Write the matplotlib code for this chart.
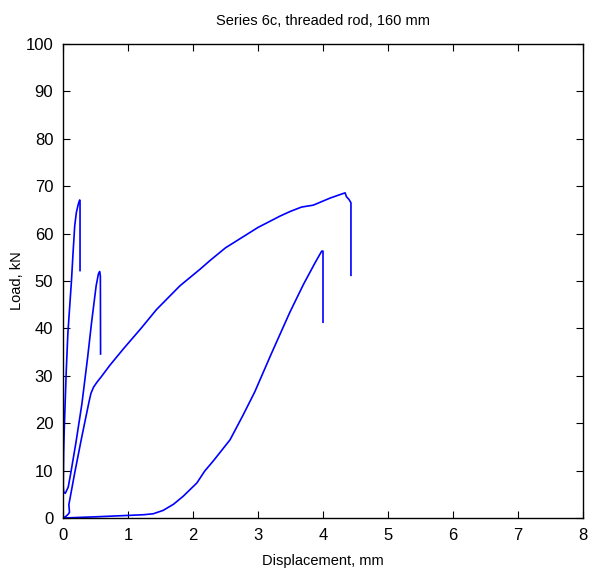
import matplotlib
matplotlib.use("Agg")
import matplotlib.pyplot as plt

plt.rcParams['font.family'] = ['Liberation Sans', 'DejaVu Sans']

# Test 1 (steep, peak ~67 kN)
x1 = [0.0, 0.003, 0.01, 0.02, 0.03, 0.05, 0.075, 0.10, 0.13, 0.155, 0.18, 0.205, 0.235, 0.257, 0.262, 0.262]
y1 = [0.0, 6.0, 14.0, 19.0, 23.0, 31.0, 39.0, 44.0, 50.0, 56.0, 61.6, 64.4, 66.2, 67.1, 66.5, 52.2]

# Test 2 (peak ~52 kN)
x2 = [0.0, 0.002, 0.01, 0.035, 0.08, 0.12, 0.20, 0.29, 0.38, 0.44, 0.51, 0.545, 0.564, 0.575, 0.578]
y2 = [12.0, 7.0, 5.5, 5.2, 6.5, 9.5, 16.0, 24.0, 34.0, 41.3, 49.0, 51.5, 52.0, 51.0, 34.6]

# Test 3 (long curve, peak ~68.5 kN)
x3 = [0.0, 0.05, 0.08, 0.10, 0.09, 0.18, 0.28, 0.40, 0.43, 0.47, 0.52, 0.60, 0.72, 0.93, 1.20,
      1.44, 1.80, 2.11, 2.26, 2.50, 3.00, 3.34, 3.50, 3.67, 3.85, 4.11, 4.34, 4.36, 4.40, 4.43, 4.43]
y3 = [0.0, 0.4, 0.8, 1.2, 2.8, 9.5, 16.5, 24.5, 26.3, 27.6, 28.6, 30.0, 32.2, 35.7, 40.0,
      44.0, 49.0, 52.5, 54.3, 57.0, 61.3, 63.7, 64.7, 65.6, 66.0, 67.5, 68.6, 67.8, 67.2, 66.5, 51.2]

# Test 4 (slack then stiffening, peak ~56 kN)
x4 = [0.0, 0.5, 1.03, 1.25, 1.39, 1.54, 1.70, 1.85, 2.06, 2.18, 2.31, 2.57, 2.77, 2.95,
      3.20, 3.49, 3.70, 3.88, 3.98, 4.00, 4.00]
y4 = [0.0, 0.25, 0.56, 0.7, 0.9, 1.6, 2.9, 4.6, 7.4, 9.9, 12.0, 16.5, 21.7, 26.6,
      34.5, 43.4, 49.3, 53.9, 56.3, 56.3, 41.3]

title = "Series 6c, threaded rod, 160 mm"
xlabel = "Displacement, mm"
ylabel = "Load, kN"
xticks = [0, 1, 2, 3, 4, 5, 6, 7, 8]
yticks = [0, 10, 20, 30, 40, 50, 60, 70, 80, 90, 100]

fig = plt.figure(figsize=(5.92, 5.72), dpi=100)
ax = fig.add_axes([63/592, 54/572, 520/592, 474/572])
for xs, ys in [(x1, y1), (x2, y2), (x3, y3), (x4, y4)]:
    ax.plot(xs, ys, color=(0, 0, 1), lw=1.2)

ax.set_xlim(0, 8)
ax.set_ylim(0, 100)
ax.set_xticks(xticks)
ax.set_yticks(yticks)
ax.tick_params(direction='in', top=True, right=True, length=5, width=0.8,
               labelsize=12)
ax.tick_params(axis='x', pad=7)
ax.tick_params(axis='y', pad=7)
for s in ax.spines.values():
    s.set_linewidth(1.0)
ax.set_title(title, fontsize=10.5, pad=14)
ax.set_xlabel(xlabel, fontsize=10.5, labelpad=8)
ax.set_ylabel(ylabel, fontsize=10.5, labelpad=1)

fig.savefig("out.png", dpi=100)
